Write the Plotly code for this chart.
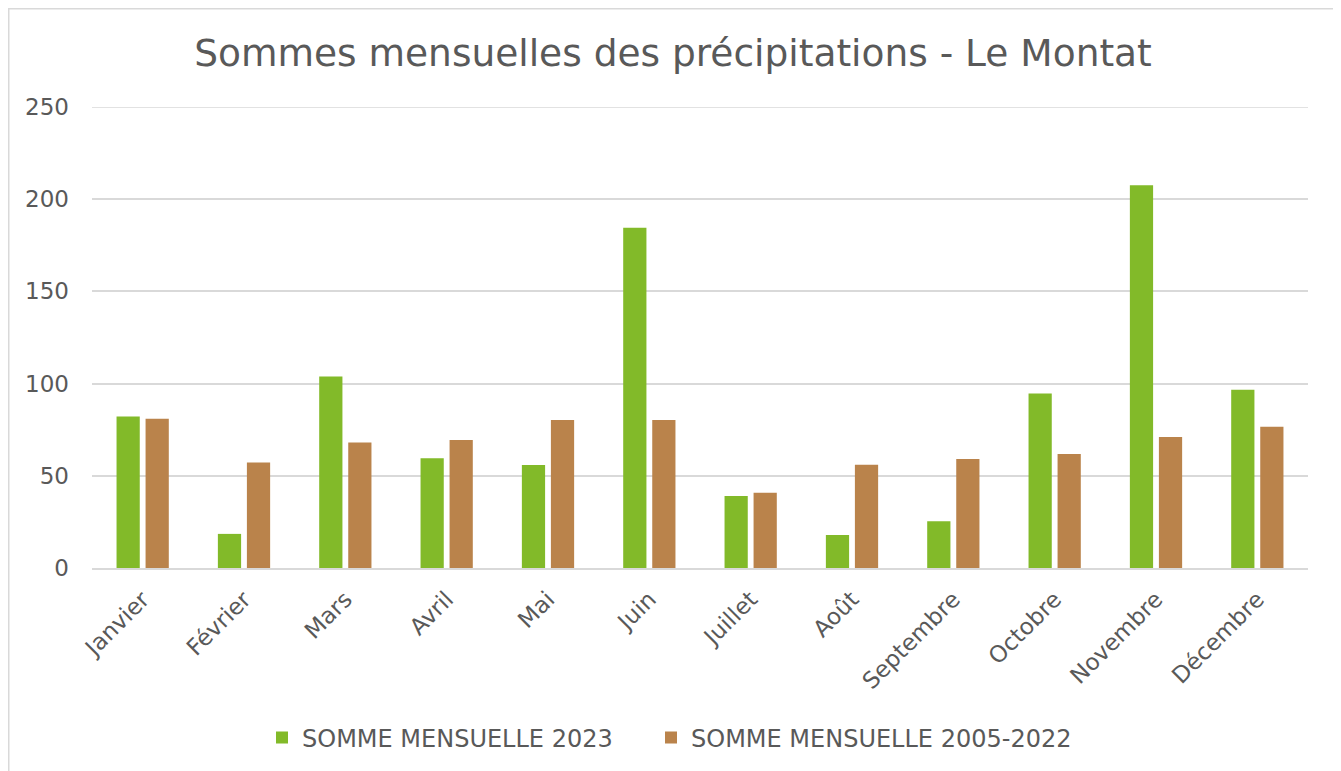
import plotly.graph_objects as go

mois = ["Janvier", "Février", "Mars", "Avril", "Mai", "Juin", "Juillet",
        "Août", "Septembre", "Octobre", "Novembre", "Décembre"]
somme_2023 = [82.1, 18.5, 103.9, 59.5, 55.8, 184.5, 39.0, 17.9, 25.4, 94.6, 207.5, 96.6]
somme_2005_2022 = [81.0, 57.2, 68.0, 69.4, 80.3, 80.3, 40.8, 56.0, 59.1, 61.8, 71.0, 76.6]
y_ticks = [0, 50, 100, 150, 200, 250]

OFF = 8  # default page body margin
W, H = 1341 - OFF, 771 - OFF
ml, mt = 92 - OFF, 107 - OFF
mr = W - (1308 - OFF)
mb = H - (568 - OFF)
pw, ph = W - ml - mr, H - mt - mb

def px_x(x):  # reference pixel -> paper coords
    return (x - OFF - ml) / pw

def px_y(y):
    return (H - mb - (y - OFF)) / ph

def cx(x):  # reference pixel -> container coords
    return (x - OFF) / W

def cy(y):
    return 1 - (y - OFF) / H

txt = "#595959"
grid = "#d9d9d9"
font = "DejaVu Sans"
leg_font = dict(family=font, size=24, color=txt)

fig = go.Figure()
fig.add_trace(go.Bar(x=mois, y=somme_2023, name="SOMME MENSUELLE 2023",
                     marker=dict(color="#82BA29", line=dict(width=0)), legend="legend"))
fig.add_trace(go.Bar(x=mois, y=somme_2005_2022, name="SOMME MENSUELLE 2005-2022",
                     marker=dict(color="#BA834B", line=dict(width=0)), legend="legend2"))

fig.update_layout(
    width=W, height=H,
    margin=dict(l=ml, r=mr, t=mt, b=mb, autoexpand=False),
    paper_bgcolor="white", plot_bgcolor="white",
    barmode="group", bargap=0.427, bargroupgap=0.2,
    title=dict(text="Sommes mensuelles des précipitations - Le Montat",
               x=cx(673), xanchor="center", y=cy(53), yanchor="middle",
               font=dict(family=font, size=37.5, color=txt)),
    font=dict(family=font, color=txt),
    showlegend=True,
    legend=dict(orientation="h", xref="container", yref="container",
                x=cx(262), xanchor="left", y=cy(738), yanchor="middle", font=leg_font,
                itemwidth=30, bgcolor="rgba(0,0,0,0)"),
    legend2=dict(orientation="h", xref="container", yref="container",
                 x=cx(651), xanchor="left", y=cy(738), yanchor="middle", font=leg_font,
                 itemwidth=30, bgcolor="rgba(0,0,0,0)"),
    xaxis=dict(tickangle=-45, tickfont=dict(family=font, size=23, color=txt),
               showgrid=False, showline=True, linecolor=grid, linewidth=1.5,
               ticks="", zeroline=False, ticklabelstandoff=7, automargin=False),
    yaxis=dict(range=[y_ticks[0], y_ticks[-1]], tickvals=y_ticks,
               tickfont=dict(family=font, size=23, color=txt),
               showgrid=True, gridcolor=grid, gridwidth=1.5, zeroline=False,
               showline=False, ticks="", ticklabelstandoff=22, automargin=False),
)

# top gridline (at the upper end of the range, which Plotly does not draw)
fig.add_shape(type="line", xref="paper", yref="y", x0=0, x1=1,
              y0=y_ticks[-1], y1=y_ticks[-1], line=dict(color=grid, width=1.5), layer="below")

# chart border
fig.add_shape(type="rect", xref="paper", yref="paper",
              x0=-ml / pw + 0.75 / pw, x1=px_x(1339), y0=px_y(800), y1=px_y(8.75),
              line=dict(color=grid, width=1.5), fillcolor="rgba(0,0,0,0)", layer="below")

fig.write_html("out.html")
